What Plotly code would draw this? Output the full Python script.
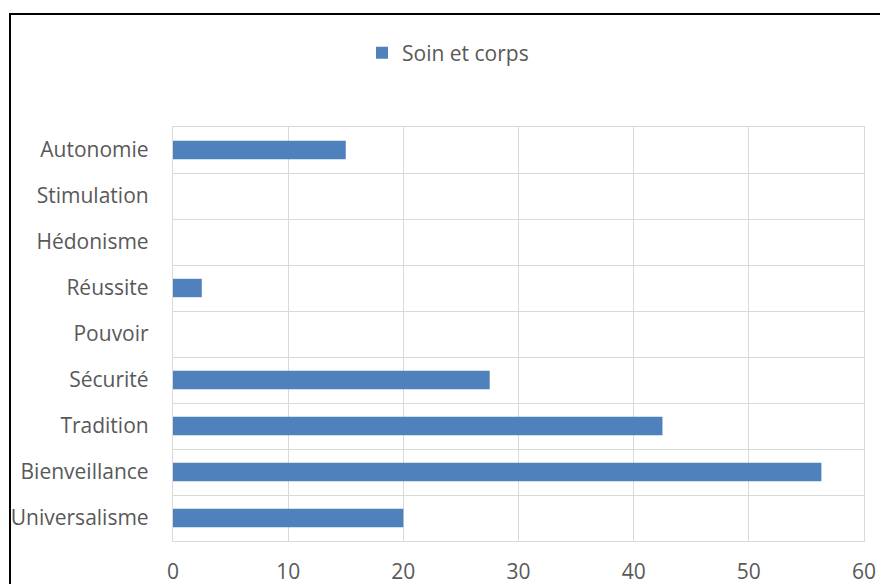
import plotly.graph_objects as go

categories = ["Universalisme", "Bienveillance", "Tradition", "Sécurité", "Pouvoir",
              "Réussite", "Hédonisme", "Stimulation", "Autonomie"]
values = [20.0, 56.3, 42.5, 27.5, 0, 2.5, 0, 0, 15.0]
series_name = "Soin et corps"
x_ticks = [0, 10, 20, 30, 40, 50, 60]

font_family = "Open Sans, sans-serif"
txt = "#595959"
grid = "#d9d9d9"

PL, PT, PR, PB = 173, 127, 864, 541   # plot area in window pixels
W, H = 880, 584
pw, ph = PR - PL, PB - PT

fig = go.Figure(go.Bar(
    y=categories, x=values, orientation="h", name=series_name,
    marker=dict(color="#4f81bd", line=dict(width=0)), width=0.4,
))

fig.update_layout(
    width=W, height=H,
    margin=dict(l=PL, r=W - PR, t=PT, b=H - PB),
    paper_bgcolor="white", plot_bgcolor="white",
    font=dict(family=font_family, size=21, color=txt),
    showlegend=True,
    legend=dict(orientation="h", x=(448 - PL) / pw, y=1 + (PT - 53) / ph,
                xanchor="center", yanchor="middle",
                font=dict(size=21, color=txt)),
    xaxis=dict(range=[0, 60], tickvals=x_ticks, showgrid=True, gridcolor=grid, gridwidth=1.3,
               zeroline=False, showline=True, linecolor=grid, mirror=True, linewidth=1.3,
               ticks="outside", ticklen=12, tickcolor="rgba(0,0,0,0)", automargin=False),
    yaxis=dict(type="category", categoryorder="array", categoryarray=categories,
               tickson="boundaries", showgrid=True, gridcolor=grid, gridwidth=1.3,
               showline=True, linecolor=grid, mirror=True, linewidth=1.3,
               ticks="", ticklabelstandoff=19, automargin=False),
    shapes=[dict(type="rect", xref="paper", yref="paper",
                 x0=(10 - PL) / pw, x1=1.2, y0=-0.3, y1=1 + (PT - 14) / ph,
                 line=dict(color="black", width=2), fillcolor="rgba(0,0,0,0)", layer="below")],
)

fig.write_html(
    "out.html",
    config={"displayModeBar": False},
    post_script="document.body.style.margin='0';document.body.style.overflow='hidden';",
)
